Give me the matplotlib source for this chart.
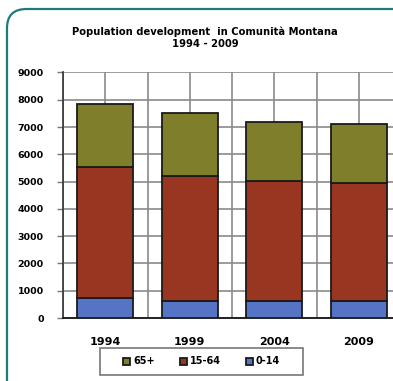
import matplotlib
matplotlib.use("Agg")
import matplotlib.pyplot as plt
from matplotlib.patches import FancyBboxPatch, Rectangle
import numpy as np

years = ["1994", "1999", "2004", "2009"]
age_0_14 = [730, 640, 640, 640]
age_15_64 = [4810, 4570, 4370, 4310]
age_65_plus = [2290, 2320, 2180, 2150]
yticks = [0, 1000, 2000, 3000, 4000, 5000, 6000, 7000, 8000, 9000]
title = "Population development  in Comunità Montana\n1994 - 2009"

c_65 = "#7f7f2b"
c_15 = "#983621"
c_0 = "#5574c6"

W, H = 393, 381
fig = plt.figure(figsize=(W / 100, H / 100), dpi=100)
fig.patch.set_facecolor("white")

# rounded teal frame
frame = FancyBboxPatch((7 / W, -0.2), 1.2, 1 - 9 / H + 0.2,
                       boxstyle="round,pad=0,rounding_size=0.05",
                       transform=fig.transFigure, fill=False,
                       edgecolor="#1d7b7d", linewidth=1.6, clip_on=False)
fig.patches.append(frame)

left = 63 / W
bottom = 1 - 318 / H
height = (318 - 72.5) / H
width = 338 / W
ax = fig.add_axes([left, bottom, width, height])

x = np.arange(len(years))
bw = 0.66
ax.bar(x, age_0_14, bw, color=c_0, edgecolor="#1a1a1a", linewidth=1.3, label="0-14", zorder=3)
ax.bar(x, age_15_64, bw, bottom=age_0_14, color=c_15, edgecolor="#1a1a1a",
       linewidth=1.3, label="15-64", zorder=3)
b2 = np.array(age_0_14) + np.array(age_15_64)
ax.bar(x, age_65_plus, bw, bottom=b2, color=c_65, edgecolor="#1a1a1a",
       linewidth=1.3, label="65+", zorder=3)

ax.set_xlim(-0.5, len(years) - 0.5)
ax.set_ylim(0, 9000)
ax.set_yticks(yticks)
ax.set_yticklabels([str(v) for v in yticks], fontsize=6.8, fontweight="bold")
ax.set_xticks(x)
ax.set_xticklabels(years, fontsize=8, fontweight="bold")
ax.set_xticks(np.arange(-0.5, len(years), 1.0), minor=True)
ax.tick_params(axis="x", which="both", length=0, pad=14)
ax.tick_params(axis="y", length=4, width=1, color="#777777", pad=10)
ax.grid(True, axis="y", color="#8a8a8a", linewidth=1.2, zorder=0)
ax.grid(True, axis="x", which="both", color="#8a8a8a", linewidth=1.2, zorder=0)
for s in ["top", "right"]:
    ax.spines[s].set_visible(False)
ax.spines["left"].set_color("#333333")
ax.spines["left"].set_linewidth(1.2)
ax.spines["bottom"].set_color("#222222")
ax.spines["bottom"].set_linewidth(1.4)

fig.text(205 / W, 1 - 37.5 / H, title, ha="center", va="center",
         fontsize=7.2, fontweight="bold", linespacing=1.2)

# legend frame
box = Rectangle((100 / W, 1 - 375 / H), 203 / W, 27 / H, transform=fig.transFigure,
                fill=False, edgecolor="#777777", linewidth=1.2)
fig.patches.append(box)

handles, labels = ax.get_legend_handles_labels()
leg = fig.legend(handles[::-1], labels[::-1], loc="center",
                 bbox_to_anchor=(201.5 / W, 1 - 361.5 / H), ncol=3,
                 fontsize=7, frameon=False,
                 handlelength=0.7, handleheight=0.7, handletextpad=0.3,
                 columnspacing=2.6, borderpad=0.2, borderaxespad=0)
for t in leg.get_texts():
    t.set_fontweight("bold")

fig.savefig("out.png", dpi=100, facecolor="white")
